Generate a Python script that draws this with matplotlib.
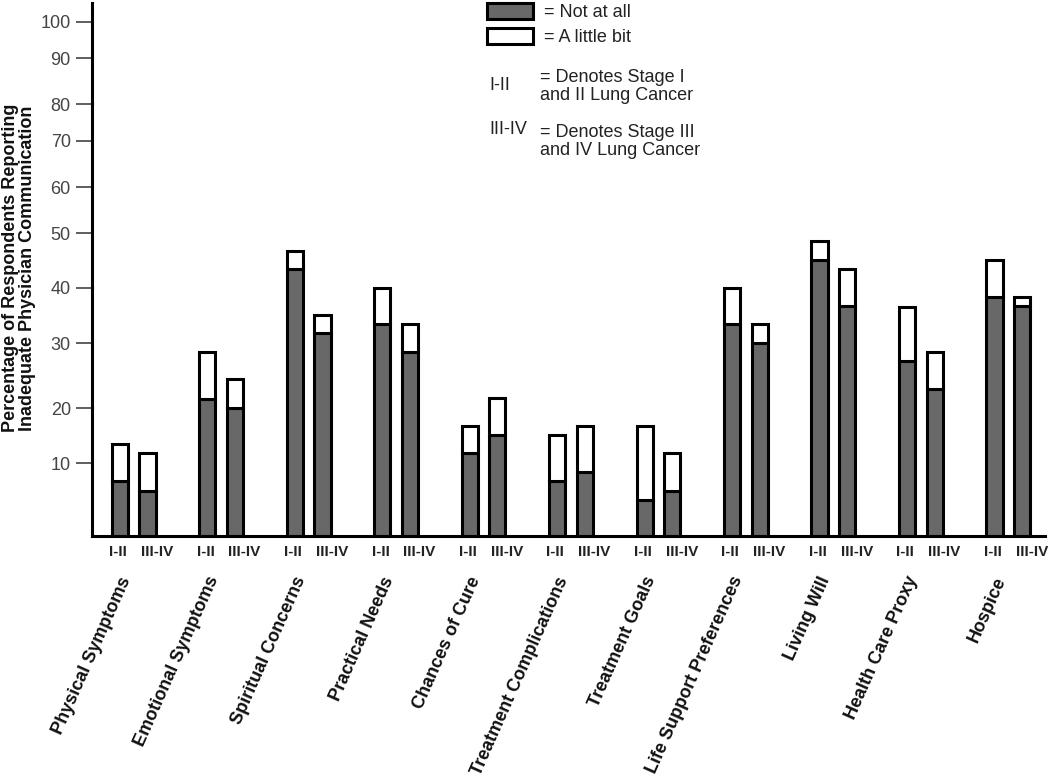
import matplotlib
matplotlib.use('Agg')
import matplotlib.pyplot as plt
import matplotlib.transforms as mtransforms
from matplotlib.patches import Patch
import numpy as np

categories = ['Physical Symptoms', 'Emotional Symptoms', 'Spiritual Concerns',
              'Practical Needs', 'Chances of Cure', 'Treatment Complications',
              'Treatment Goals', 'Life Support Preferences', 'Living Will',
              'Health Care Proxy', 'Hospice']
stages = ['I-II', 'III-IV']

# percentages, stage I-II
not_at_all_early = [7.5, 21.5, 43.4, 33.4, 11.8, 7.5, 4.9, 33.4, 45.1, 27.3, 38.4]
little_bit_early = [6.0, 7.2, 3.3, 6.6, 5.0, 7.6, 11.8, 6.5, 3.4, 9.3, 6.7]
# percentages, stage III-IV
not_at_all_late = [6.2, 20.1, 31.8, 28.6, 15.1, 8.8, 6.2, 30.1, 36.7, 22.9, 36.7]
little_bit_late = [5.6, 4.4, 3.3, 4.8, 6.5, 8.0, 5.6, 3.3, 6.7, 5.7, 1.7]

y_ticks = [10, 20, 30, 40, 50, 60, 70, 80, 90, 100]

# the printed axis is not evenly spaced; map tick values onto their drawn heights
knot_vals = [0, 10, 20, 30, 40, 50, 60, 70, 80, 90, 100, 110]
knot_h = [0, 72.2, 127.2, 192.2, 247.8, 302.2, 348.2, 394.5, 431.2, 477.2, 513.8, 550.4]


def fwd(v):
    return np.interp(v, knot_vals, knot_h)


def inv(h):
    return np.interp(h, knot_h, knot_vals)


dark = '#686868'
edge_lw = 2.2
W, H = 1050, 777

plt.rcParams['font.family'] = ['Liberation Sans', 'DejaVu Sans']

fig = plt.figure(figsize=(10.5, 7.77), dpi=100)
ax = fig.add_axes([91.7 / W, 1 - 535.5 / H, (1045 - 91.7) / W, 532.5 / H])
ax.set_yscale('function', functions=(fwd, inv))

x = np.arange(len(categories))
off = 0.158
bw = 0.185
xe = x - off
xl = x + off

ax.bar(xe, not_at_all_early, bw, color=dark, edgecolor='black', linewidth=edge_lw, zorder=2)
ax.bar(xe, little_bit_early, bw, bottom=not_at_all_early, color='white',
       edgecolor='black', linewidth=edge_lw, zorder=2)
ax.bar(xl, not_at_all_late, bw, color=dark, edgecolor='black', linewidth=edge_lw, zorder=2)
ax.bar(xl, little_bit_late, bw, bottom=not_at_all_late, color='white',
       edgecolor='black', linewidth=edge_lw, zorder=2)

ax.set_xlim(-0.48, len(categories) - 1 + 0.42)
ax.set_ylim(0, 105.1)

for s in ['top', 'right']:
    ax.spines[s].set_visible(False)
for s in ['left', 'bottom']:
    ax.spines[s].set_linewidth(edge_lw)
    ax.spines[s].set_zorder(3)

ax.set_yticks(y_ticks)
ax.set_yticklabels([str(t) for t in y_ticks])
ax.yaxis.set_minor_locator(matplotlib.ticker.NullLocator())
ax.tick_params(axis='y', length=11.5, width=1.1, color='#333333', pad=3.5,
               labelsize=13, labelcolor='#444444')
ax.set_xticks([])

# stage labels under the bars (the III-IV ones sit a little to the right)
trans = mtransforms.blended_transform_factory(ax.transData, ax.transAxes)
narrow = ['Liberation Sans Narrow', 'Liberation Sans']
for i in range(len(categories)):
    ax.text(xe[i] - 0.02, -0.031, stages[0], transform=trans, ha='center', va='center',
            fontsize=11, fontweight='bold', family=narrow, color='#222222')
    ax.text(xl[i] + 0.11, -0.031, stages[1], transform=trans, ha='center', va='center',
            fontsize=11, fontweight='bold', family=narrow, color='#222222')

# category names, slanted under each pair
for i, name in enumerate(categories):
    ax.text(x[i] - 0.17, -0.072, name, transform=trans, rotation=66,
            rotation_mode='anchor', ha='right', va='top', fontsize=13,
            fontweight='bold', color='#111111')

fig.text(19 / W, 1 - 268 / H,
         'Percentage of Respondents Reporting\nInadequate Physician Communication',
         rotation=90, ha='center', va='center', fontsize=13, fontweight='bold',
         multialignment='center', linespacing=1.05, color='#111111')

handles = [Patch(facecolor=dark, edgecolor='black', linewidth=edge_lw),
           Patch(facecolor='white', edgecolor='black', linewidth=edge_lw)]
ax.legend(handles, ['= Not at all', '= A little bit'], loc='upper left',
          bbox_to_anchor=(487 / W, 1 - 2.5 / H), bbox_transform=fig.transFigure,
          frameon=False, fontsize=13, handlelength=2.55, handleheight=1.0,
          handletextpad=0.6, labelspacing=0.38, borderpad=0, borderaxespad=0,
          labelcolor='#222222')

fig.text(489 / W, 1 - 85 / H, 'I-II', va='center', fontsize=13, color='#222222')
fig.text(540 / W, 1 - 86.5 / H, '= Denotes Stage I\nand II Lung Cancer',
         va='center', fontsize=13, linespacing=1.05, color='#222222')
fig.text(489 / W, 1 - 130 / H, 'III-IV', va='center', fontsize=13, color='#222222')
fig.text(540 / W, 1 - 141.5 / H, '= Denotes Stage III\nand IV Lung Cancer',
         va='center', fontsize=13, linespacing=1.05, color='#222222')

fig.savefig('out.png', dpi=100)
